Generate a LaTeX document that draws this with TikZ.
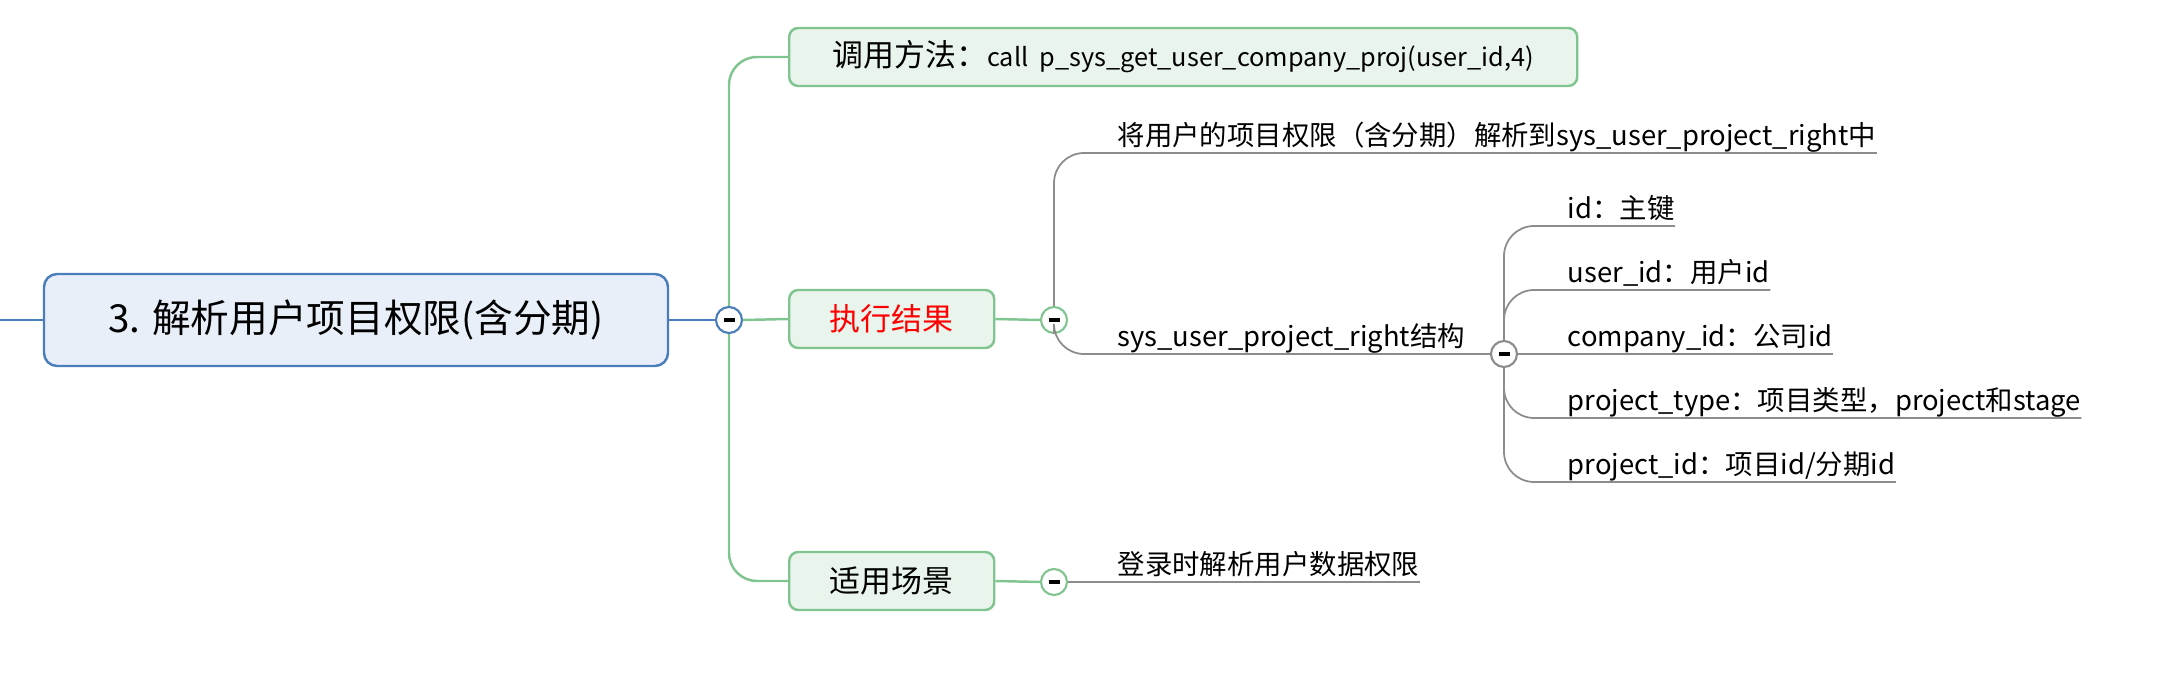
\documentclass[tikz,border=0pt]{standalone}
\usepackage{fontspec}
\setmainfont{Noto Sans CJK SC}
\usetikzlibrary{positioning}

\definecolor{rootblue}{RGB}{74,126,187}
\definecolor{rootfill}{RGB}{232,239,248}
\definecolor{mapgreen}{RGB}{128,196,144}
\definecolor{greenfill}{RGB}{233,245,236}
\definecolor{mapgray}{RGB}{140,140,140}
\newcommand{\foldmark}{\rule{1.1mm}{0.35mm}}
\newcommand{\latinpart}{\fontsize{7.2}{9}\selectfont}

\begin{document}
\begin{tikzpicture}[x=0.1mm,y=-0.1mm,
    root node/.style={rectangle,rounded corners=1.3mm,draw=rootblue,line width=0.7pt,
                      fill=rootfill,minimum width=62.4mm,minimum height=9.2mm,
                      font=\fontsize{11}{13}\selectfont},
    green node/.style={rectangle,rounded corners=0.9mm,draw=mapgreen,line width=0.7pt,
                       fill=greenfill,minimum height=5.8mm,anchor=west,
                       font=\fontsize{8.8}{11}\selectfont},
    leaf node/.style={anchor=south west,inner xsep=0pt,inner ysep=0pt,text depth=0.7mm,
                      font=\fontsize{7.8}{9}\selectfont},
    fold/.style={circle,draw=#1,fill=white,line width=0.6pt,inner sep=0pt,
                 minimum size=2.6mm},
    blue line/.style={draw=rootblue,line width=0.7pt},
    green line/.style={draw=mapgreen,line width=0.7pt,rounded corners=2.8mm},
    gray line/.style={draw=mapgray,line width=0.5pt,rounded corners=3mm}]
\useasboundingbox (0,0) rectangle (2168,678);

% central topic
\coordinate (in) at (0,320);
\node[root node] (root) at (356,320) {3. 解析用户项目权限(含分期)};
\node[fold=rootblue] (f0) at (729,320) {\foldmark};

% main branches
\node[green node,minimum width=78.8mm] (call) at (788,57)
     {调用方法：{\latinpart call\ \ p\_sys\_get\_user\_company\_proj(user\_id,4)}};
\node[green node,minimum width=20.5mm,text=red] (result) at (788,319) {执行结果};
\node[green node,minimum width=20.5mm] (scene) at (788,581) {适用场景};
\node[fold=mapgreen] (f1) at (1054,320) {\foldmark};
\node[fold=mapgreen] (f2) at (1054,582) {\foldmark};

% result details
\node[leaf node] (parse) at (1117,153) {将用户的项目权限（含分期）解析到sys\_user\_project\_right中};
\node[leaf node] (struct) at (1117,354) {sys\_user\_project\_right结构};
\node[fold=mapgray] (f3) at (1504,354) {\foldmark};
\node[leaf node] (login) at (1117,582) {登录时解析用户数据权限};

% table columns
\node[leaf node] (colid) at (1567,226) {id：主键};
\node[leaf node] (coluser) at (1567,290) {user\_id：用户id};
\node[leaf node] (colcomp) at (1567,354) {company\_id：公司id};
\node[leaf node] (coltype) at (1567,418) {project\_type：项目类型，project和stage};
\node[leaf node] (colproj) at (1567,482) {project\_id：项目id/分期id};

\draw[blue line] (in) -- (root.west);
\draw[blue line] (root.east) -- (f0.west);

\draw[green line] (f0.north) |- (call.west);
\draw[green line] (f0.east) -- (result.west);
\draw[green line] (f0.south) |- (scene.west);
\draw[green line] (result.east) -- (f1.west);
\draw[green line] (scene.east) -- (f2.west);

\draw[gray line] (f1.north) |- (parse.south east);
\draw[gray line] (f1.south) |- (f3.west);
\draw[gray line] (f2.east) -- (login.south east);

\draw[gray line] (f3.north) |- (colid.south east);
\draw[gray line] (f3.north) |- (coluser.south east);
\draw[gray line] (f3.east) -- (colcomp.south east);
\draw[gray line] (f3.south) |- (coltype.south east);
\draw[gray line] (f3.south) |- (colproj.south east);
\end{tikzpicture}
\end{document}
